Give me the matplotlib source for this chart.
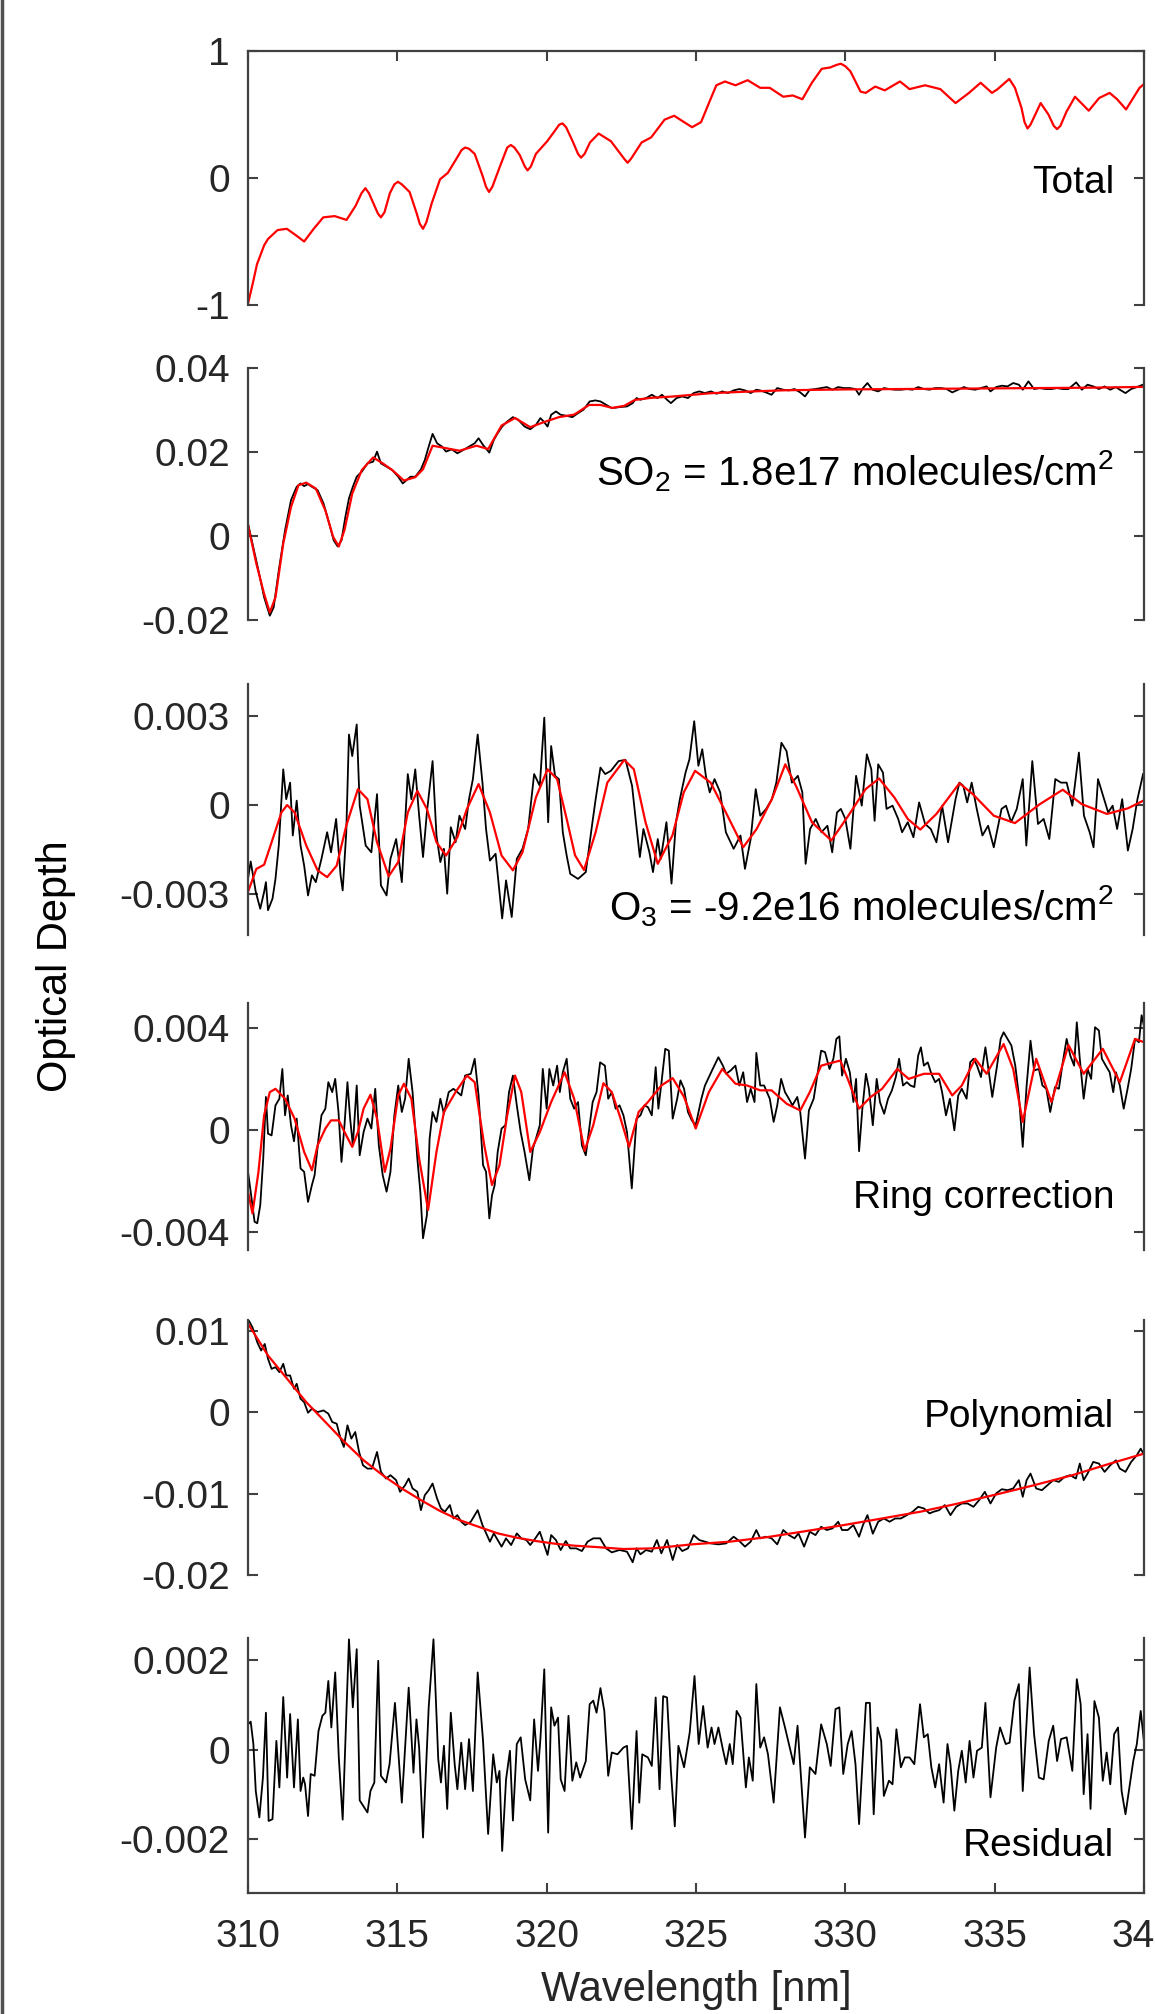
import numpy as np
import matplotlib
matplotlib.use("Agg")
import matplotlib.pyplot as plt
from matplotlib.lines import Line2D

plt.rcParams["font.family"] = ["Liberation Sans", "DejaVu Sans"]
plt.rcParams["mathtext.default"] = "regular"
plt.rcParams["lines.solid_joinstyle"] = "round"

# ---------------------------------------------------------------------------
# Data: (wavelength [nm], optical depth)
# Small panels are stored in units of 1e-3.
# ---------------------------------------------------------------------------
TOTAL = [(310.00, -0.99), (310.15, -0.84), (310.30, -0.68), (310.54, -0.53), (310.67, -0.48),
         (310.99, -0.41), (311.30, -0.40), (311.60, -0.45), (311.88, -0.50), (312.20, -0.40),
         (312.52, -0.31), (312.90, -0.30), (313.30, -0.33), (313.60, -0.22), (313.80, -0.12),
         (313.93, -0.08), (314.05, -0.12), (314.20, -0.20), (314.35, -0.28), (314.45, -0.31),
         (314.57, -0.27), (314.75, -0.12), (314.90, -0.05), (315.02, -0.03), (315.15, -0.05),
         (315.41, -0.11), (315.65, -0.28), (315.75, -0.36), (315.86, -0.40), (315.97, -0.35),
         (316.15, -0.20), (316.43, -0.01), (316.69, 0.04), (317.00, 0.16), (317.15, 0.22),
         (317.27, 0.24), (317.40, 0.23), (317.59, 0.19), (317.85, 0.02), (317.97, -0.07),
         (318.07, -0.11), (318.18, -0.07), (318.45, 0.10), (318.68, 0.24), (318.80, 0.26),
         (318.92, 0.24), (319.10, 0.18), (319.27, 0.09), (319.36, 0.06), (319.47, 0.09),
         (319.64, 0.19), (320.02, 0.29), (320.30, 0.38), (320.42, 0.42), (320.53, 0.43),
         (320.65, 0.40), (320.85, 0.30), (321.05, 0.19), (321.15, 0.16), (321.27, 0.19),
         (321.45, 0.28), (321.74, 0.35), (322.15, 0.29), (322.60, 0.15), (322.71, 0.12),
         (322.82, 0.15), (323.18, 0.28), (323.50, 0.32), (323.95, 0.46), (324.27, 0.49),
         (324.60, 0.44), (324.87, 0.40), (325.17, 0.44), (325.45, 0.60), (325.68, 0.73),
         (325.97, 0.76), (326.32, 0.73), (326.73, 0.77), (327.15, 0.71), (327.47, 0.71),
         (327.92, 0.64), (328.24, 0.65), (328.56, 0.62), (328.88, 0.75), (329.21, 0.86),
         (329.49, 0.87), (329.70, 0.89), (329.85, 0.90), (330.00, 0.88), (330.17, 0.84),
         (330.51, 0.68), (330.68, 0.67), (331.00, 0.72), (331.32, 0.69), (331.83, 0.76),
         (332.15, 0.70), (332.67, 0.73), (333.18, 0.70), (333.69, 0.59), (334.14, 0.67),
         (334.53, 0.75), (334.91, 0.67), (335.10, 0.70), (335.49, 0.78), (335.68, 0.71),
         (335.90, 0.55), (336.00, 0.44), (336.10, 0.39), (336.20, 0.42), (336.54, 0.59),
         (336.80, 0.50), (336.98, 0.41), (337.09, 0.385), (337.20, 0.41), (337.40, 0.52),
         (337.69, 0.64), (338.15, 0.53), (338.50, 0.63), (338.85, 0.67), (339.10, 0.62),
         (339.40, 0.54), (339.85, 0.71), (340.00, 0.74)]

SO2_MEAS = [(310.00, 2.95), (310.15, -1.83), (310.35, -8.21), (310.54, -14.59), (310.73, -18.97),
            (310.86, -16.97), (311.03, -8.21), (311.24, 1.35), (311.44, 8.53), (311.63, 11.72),
            (311.76, 12.51), (311.88, 11.88), (312.01, 12.35), (312.14, 11.72), (312.33, 10.92),
            (312.53, 7.73), (312.72, 2.95), (312.87, -1.04), (313.00, -2.47), (313.13, -1.04),
            (313.26, 4.54), (313.38, 8.93), (313.51, 11.72), (313.64, 14.11), (313.81, 15.30),
            (314.00, 17.30), (314.19, 17.69), (314.32, 20.09), (314.45, 17.30), (314.64, 16.50),
            (314.83, 15.70), (315.03, 14.11), (315.18, 12.51), (315.31, 13.31), (315.44, 14.11),
            (315.60, 14.11), (315.79, 15.86), (315.92, 18.09), (316.05, 21.28), (316.18, 24.31),
            (316.33, 22.08), (316.50, 21.28), (316.63, 20.09), (316.82, 20.64), (317.01, 19.69),
            (317.21, 20.48), (317.40, 21.28), (317.59, 22.08), (317.72, 23.27), (317.87, 21.68),
            (318.08, 19.85), (318.23, 22.87), (318.36, 24.47), (318.51, 26.06), (318.68, 27.26),
            (318.87, 28.30), (319.05, 27.66), (319.26, 26.06), (319.45, 25.42), (319.64, 26.46),
            (319.79, 28.06), (319.90, 27.26), (320.03, 26.06), (320.15, 28.86), (320.31, 29.65),
            (320.47, 28.86), (320.67, 28.62), (320.86, 28.30), (321.05, 29.25), (321.23, 30.05),
            (321.44, 32.04), (321.63, 32.28), (321.80, 32.04), (321.99, 31.24), (322.18, 30.45),
            (322.44, 30.69), (322.69, 30.85), (322.88, 31.64), (323.01, 32.84), (323.14, 32.44),
            (323.33, 32.84), (323.52, 33.63), (323.71, 32.84), (323.86, 33.63), (324.03, 32.44),
            (324.16, 31.64), (324.35, 32.84), (324.54, 33.23), (324.73, 32.84), (324.92, 34.03),
            (325.11, 34.43), (325.30, 34.03), (325.50, 34.43), (325.69, 33.87), (325.88, 34.43),
            (326.07, 34.03), (326.26, 34.67), (326.45, 34.99), (326.64, 34.67), (326.83, 34.03),
            (327.02, 34.83), (327.15, 34.67), (327.34, 34.19), (327.53, 33.63), (327.72, 35.22),
            (327.92, 34.83), (328.11, 34.67), (328.30, 34.99), (328.49, 34.19), (328.65, 33.23),
            (328.81, 34.83), (329.00, 34.99), (329.19, 35.22), (329.38, 35.46), (329.57, 34.83),
            (329.76, 35.46), (329.95, 35.22), (330.15, 35.22), (330.34, 34.99), (330.46, 33.63),
            (330.59, 35.22), (330.74, 36.42), (330.91, 34.83), (331.10, 34.43), (331.29, 35.22),
            (331.48, 34.99), (331.67, 34.83), (331.86, 34.83), (332.06, 34.99), (332.25, 34.83),
            (332.44, 35.46), (332.63, 34.99), (332.82, 34.83), (333.01, 35.22), (333.20, 35.22),
            (333.39, 34.99), (333.58, 34.19), (333.78, 34.83), (333.97, 35.46), (334.16, 34.99),
            (334.35, 34.83), (334.54, 35.22), (334.73, 35.62), (334.86, 34.43), (335.05, 35.46),
            (335.24, 35.78), (335.43, 35.62), (335.62, 36.42), (335.81, 36.02), (335.94, 34.83),
            (336.13, 36.82), (336.32, 34.99), (336.51, 35.22), (336.71, 34.99), (336.90, 34.99),
            (337.09, 35.22), (337.28, 34.99), (337.47, 34.99), (337.73, 36.58), (337.92, 34.83),
            (338.11, 36.02), (338.30, 35.62), (338.49, 34.99), (338.68, 35.62), (338.87, 34.83),
            (339.06, 35.46), (339.19, 34.83), (339.38, 34.03), (339.57, 34.99), (339.76, 35.46),
            (339.96, 36.02)]

SO2_FIT = [(310.00, 2.6), (310.28, -6.6), (310.54, -13.8), (310.73, -18.2), (310.92, -14.6),
           (311.18, -1.8), (311.44, 6.9), (311.69, 12.1), (311.95, 12.7), (312.27, 11.3),
           (312.59, 6.1), (312.85, -0.2), (313.04, -2.5), (313.23, 1.4), (313.49, 10.1),
           (313.81, 15.7), (314.19, 18.7), (314.51, 17.3), (314.83, 15.7), (315.22, 13.2),
           (315.60, 14.0), (315.86, 15.9), (316.18, 21.5), (316.56, 21.0), (317.08, 20.3),
           (317.65, 21.5), (318.04, 20.7), (318.49, 26.3), (318.94, 28.1), (319.45, 25.9),
           (319.90, 27.1), (320.41, 28.3), (320.92, 28.9), (321.42, 31.2), (321.80, 31.2),
           (322.20, 30.5), (322.60, 31.0), (322.95, 32.4), (323.50, 32.9), (324.20, 33.2),
           (325.50, 34.0), (326.80, 34.4), (328.00, 34.7), (330.00, 34.9), (332.00, 35.0),
           (334.00, 35.1), (336.00, 35.2), (338.00, 35.3), (340.00, 35.5)]

O3_MEAS = [(310.00, -2.50), (310.09, -1.91), (310.26, -2.94), (310.41, -3.51), (310.54, -2.94),
           (310.60, -2.61), (310.67, -3.56), (310.82, -3.17), (310.92, -2.50), (311.03, -1.37),
           (311.18, 1.21), (311.28, 0.20), (311.41, 0.76), (311.50, -1.03), (311.63, 0.15),
           (311.76, -1.37), (311.88, -2.05), (312.01, -3.06), (312.14, -2.38), (312.27, -2.61),
           (312.46, -1.82), (312.65, -0.92), (312.78, -1.60), (312.95, -0.47), (313.10, -2.38),
           (313.17, -2.89), (313.29, -0.92), (313.38, 2.39), (313.49, 1.66), (313.64, 2.73),
           (313.74, -0.02), (313.94, -1.37), (314.13, -1.60), (314.32, 0.37), (314.45, -2.72),
           (314.64, -3.06), (314.77, -1.82), (314.96, -1.15), (315.15, -2.61), (315.35, 1.05),
           (315.47, 0.20), (315.60, 1.21), (315.73, -0.36), (315.86, -1.76), (315.99, -0.25),
           (316.18, 1.49), (316.31, -1.03), (316.44, -1.93), (316.56, -1.48), (316.67, -3.00),
           (316.79, -0.75), (316.95, -1.26), (317.08, -0.36), (317.27, -0.81), (317.40, 0.20),
           (317.53, 0.88), (317.69, 2.39), (317.85, 0.76), (317.97, -0.81), (318.10, -1.88),
           (318.29, -1.65), (318.51, -3.84), (318.64, -2.55), (318.83, -3.79), (319.00, -1.82),
           (319.19, -1.48), (319.38, -0.81), (319.58, 1.05), (319.77, 0.65), (319.92, 2.96),
           (320.05, -0.58), (320.15, 2.00), (320.28, 0.99), (320.41, 0.88), (320.54, -0.92),
           (320.67, -1.71), (320.79, -2.33), (321.05, -2.50), (321.31, -2.27), (321.51, -0.75),
           (321.64, 0.20), (321.80, 1.27), (321.96, 1.05), (322.15, 1.16), (322.41, 1.49),
           (322.64, 1.53), (322.86, 0.65), (322.99, -0.58), (323.12, -1.76), (323.24, -0.81),
           (323.44, -1.60), (323.56, -2.27), (323.72, -1.15), (323.82, -1.82), (324.01, -0.58),
           (324.18, -2.66), (324.33, -0.58), (324.46, 0.20), (324.65, 1.10), (324.78, 1.55),
           (324.94, 2.84), (325.08, 1.33), (325.21, 1.89), (325.33, 0.99), (325.46, 0.43),
           (325.62, 0.88), (325.81, 0.43), (326.00, -0.92), (326.26, -1.48), (326.49, -1.03),
           (326.64, -2.16), (326.83, -1.15), (327.00, 0.54), (327.15, -0.36), (327.35, -0.13),
           (327.54, 0.20), (327.69, 0.76), (327.86, 2.11), (328.03, 1.83), (328.21, 0.76),
           (328.41, 0.99), (328.56, 0.43), (328.67, -1.99), (328.82, -0.81), (329.01, -0.47),
           (329.20, -0.92), (329.40, -0.70), (329.56, -1.60), (329.72, -0.25), (329.85, -0.13),
           (330.00, -0.47), (330.17, -1.48), (330.36, 0.99), (330.55, -0.02), (330.72, 1.72),
           (330.87, 1.21), (330.98, -0.53), (331.10, 1.38), (331.26, 1.10), (331.38, -0.13),
           (331.58, -0.02), (331.77, -0.47), (331.90, -0.92), (332.09, -0.58), (332.28, -1.09),
           (332.47, 0.09), (332.67, -0.64), (332.86, -0.81), (333.05, -1.26), (333.24, -0.02),
           (333.44, -1.26), (333.69, 0.20), (333.82, 0.76), (333.95, 0.65), (334.08, 0.09),
           (334.23, 0.76), (334.40, -0.13), (334.59, -1.03), (334.78, -0.70), (334.97, -1.43),
           (335.23, -0.13), (335.38, -0.02), (335.55, -0.58), (335.74, -0.13), (335.94, 0.88),
           (336.06, -1.37), (336.26, 1.49), (336.45, -0.64), (336.64, -0.47), (336.83, -1.15),
           (337.03, 0.88), (337.22, 0.76), (337.41, 0.76), (337.60, -0.02), (337.82, 1.78),
           (337.99, -0.36), (338.18, -0.92), (338.31, -1.43), (338.46, 0.88), (338.63, 0.31),
           (338.80, -0.25), (338.95, -0.02), (339.10, -0.81), (339.27, 0.20), (339.46, -1.54),
           (339.62, -0.81), (339.78, 0.20), (339.97, 1.05)]

O3_FIT = [(310.00, -2.94), (310.28, -2.16), (310.54, -2.02), (310.79, -1.26), (311.12, -0.25),
          (311.31, 0.00), (311.56, -0.25), (311.95, -1.37), (312.33, -2.21), (312.65, -2.44),
          (312.97, -2.05), (313.29, -0.70), (313.68, 0.54), (314.00, 0.20), (314.32, -1.26),
          (314.71, -2.41), (315.03, -1.93), (315.35, -0.25), (315.67, 0.48), (315.99, -0.13),
          (316.31, -1.26), (316.63, -1.71), (317.01, -1.09), (317.33, -0.13), (317.72, 0.71),
          (318.10, -0.25), (318.49, -1.71), (318.87, -2.21), (319.19, -1.60), (319.64, 0.26),
          (320.03, 1.21), (320.35, 0.88), (320.67, -0.47), (320.95, -1.70), (321.25, -2.20),
          (321.64, -0.92), (322.03, 0.76), (322.60, 1.53), (322.92, 1.21), (323.31, -0.58),
          (323.72, -1.99), (324.21, -1.03), (324.59, 0.43), (324.97, 1.16), (325.49, 0.76),
          (326.00, -0.25), (326.58, -1.43), (327.03, -0.81), (327.54, 0.20), (327.99, 1.38),
          (328.37, 0.60), (328.88, -0.58), (329.53, -1.20), (330.10, -0.36), (330.68, 0.54),
          (331.13, 0.90), (331.64, 0.26), (332.09, -0.47), (332.51, -0.83), (333.05, -0.30),
          (333.82, 0.74), (334.27, 0.37), (334.97, -0.36), (335.68, -0.61), (336.51, 0.03),
          (337.28, 0.52), (337.92, 0.03), (338.76, -0.30), (339.46, -0.11), (340.00, 0.16)]

RING_MEAS = [(310.00, -1.63), (310.09, -2.41), (310.22, -3.59), (310.31, -3.65), (310.41, -2.94),
             (310.51, -1.11), (310.60, 1.31), (310.67, -0.13), (310.79, -0.20), (310.92, 0.98),
             (311.05, 1.24), (311.15, 2.41), (311.24, 0.59), (311.33, 1.37), (311.44, 0.20),
             (311.54, -0.43), (311.63, 0.46), (311.76, -1.50), (311.88, -1.63), (312.01, -2.81),
             (312.14, -2.15), (312.23, -1.76), (312.36, -0.33), (312.46, 0.59), (312.59, 0.85),
             (312.69, 1.89), (312.82, 1.50), (312.92, 2.02), (313.03, 0.72), (313.13, -1.24),
             (313.23, 0.20), (313.33, 1.89), (313.42, 0.46), (313.51, -0.59), (313.64, 1.76),
             (313.74, -0.98), (313.87, -0.07), (314.00, 0.46), (314.13, 0.07), (314.26, 1.63),
             (314.38, -0.59), (314.51, -1.76), (314.64, -2.41), (314.77, -1.63), (314.90, 0.59),
             (315.03, 1.76), (315.15, 0.72), (315.26, 1.24), (315.38, 2.81), (315.51, 1.50),
             (315.67, -1.11), (315.77, -2.41), (315.86, -4.24), (315.99, -3.33), (316.08, -0.33),
             (316.18, 0.72), (316.31, 0.33), (316.44, 1.24), (316.56, 0.65), (316.72, 1.50),
             (316.88, 1.63), (317.01, 1.50), (317.14, 1.37), (317.27, 2.15), (317.46, 2.22),
             (317.59, 2.81), (317.72, 1.37), (317.87, -1.37), (317.97, -1.63), (318.08, -3.46),
             (318.17, -2.55), (318.26, -2.15), (318.36, -0.85), (318.49, 0.07), (318.62, 0.20),
             (318.74, 1.50), (318.87, 2.15), (319.00, 0.98), (319.13, -0.07), (319.26, -0.85),
             (319.42, -1.96), (319.54, -0.72), (319.64, -0.33), (319.77, 0.20), (319.87, 2.41),
             (320.00, 0.85), (320.09, 2.41), (320.22, 1.76), (320.35, 2.54), (320.44, 1.50),
             (320.54, 2.28), (320.67, 2.81), (320.79, 1.24), (320.92, 0.85), (321.05, 1.11),
             (321.18, -0.59), (321.31, -0.98), (321.41, -0.07), (321.54, 1.11), (321.67, 1.50),
             (321.79, 2.67), (321.95, 2.54), (322.06, 1.24), (322.18, 1.50), (322.31, 0.85),
             (322.44, 0.98), (322.57, 0.59), (322.69, -0.07), (322.85, -2.28), (322.95, -0.59),
             (323.01, 0.46), (323.14, 0.59), (323.27, 0.98), (323.39, 0.91), (323.52, 0.59),
             (323.65, 2.48), (323.74, 0.85), (323.84, 1.83), (323.97, 3.20), (324.09, 3.13),
             (324.22, 0.46), (324.37, 1.24), (324.48, 1.96), (324.60, 1.63), (324.73, 0.72),
             (324.86, 0.39), (324.99, 0.20), (325.18, 1.24), (325.30, 1.76), (325.43, 2.09),
             (325.56, 2.41), (325.75, 2.87), (325.90, 2.54), (326.01, 2.22), (326.16, 2.35),
             (326.32, 2.54), (326.45, 1.76), (326.58, 2.28), (326.71, 1.11), (326.83, 1.63),
             (326.96, 1.11), (327.02, 3.04), (327.15, 1.76), (327.28, 1.76), (327.47, 1.24),
             (327.60, 0.33), (327.72, 0.98), (327.85, 2.02), (327.98, 1.50), (328.11, 1.24),
             (328.23, 0.98), (328.39, 1.31), (328.49, 0.72), (328.65, -1.11), (328.78, 0.78),
             (328.94, 1.24), (329.06, 2.15), (329.19, 3.13), (329.32, 3.07), (329.47, 2.41),
             (329.60, 2.81), (329.70, 3.59), (329.80, 3.69), (329.89, 2.15), (330.02, 2.81),
             (330.15, 2.28), (330.27, 1.11), (330.36, 2.02), (330.46, -0.82), (330.57, 0.85),
             (330.69, 2.22), (330.79, 1.63), (330.92, 0.20), (331.05, 2.02), (331.16, 1.11),
             (331.30, 0.65), (331.43, 1.24), (331.56, 1.57), (331.69, 2.09), (331.80, 2.81),
             (331.93, 1.76), (332.06, 1.89), (332.18, 1.76), (332.31, 1.70), (332.44, 2.94),
             (332.53, 3.26), (332.63, 2.54), (332.76, 2.67), (332.88, 2.22), (333.01, 1.89),
             (333.14, 2.02), (333.24, 1.50), (333.37, 0.59), (333.50, 1.24), (333.65, 0.00),
             (333.78, 1.37), (333.90, 1.63), (334.06, 1.24), (334.18, 2.67), (334.29, 2.81),
             (334.41, 2.54), (334.54, 2.09), (334.69, 3.26), (334.79, 2.41), (334.92, 1.31),
             (335.08, 2.54), (335.20, 3.59), (335.30, 3.85), (335.43, 3.59), (335.56, 3.33),
             (335.69, 2.54), (335.81, 1.37), (335.94, -0.65), (336.07, 1.76), (336.20, 3.52),
             (336.32, 2.35), (336.48, 2.41), (336.60, 1.76), (336.73, 1.63), (336.86, 0.72),
             (337.02, 1.70), (337.15, 1.63), (337.28, 2.67), (337.41, 3.59), (337.53, 2.94),
             (337.66, 2.54), (337.75, 4.24), (337.85, 2.81), (337.98, 1.24), (338.11, 2.41),
             (338.23, 2.02), (338.36, 4.05), (338.49, 3.92), (338.59, 2.81), (338.72, 2.54),
             (338.85, 2.28), (338.97, 1.50), (339.06, 2.28), (339.19, 1.76), (339.32, 0.85),
             (339.45, 1.63), (339.57, 2.41), (339.70, 3.59), (339.83, 3.46), (339.92, 4.52),
             (340.02, 3.98)]

RING_FIT = [(310.00, -2.41), (310.15, -3.26), (310.35, -1.63), (310.54, 0.59), (310.73, 1.50),
            (310.92, 1.63), (311.24, 1.24), (311.56, 0.46), (311.88, -0.85), (312.14, -1.57),
            (312.33, -0.59), (312.59, 0.07), (312.78, 0.39), (313.04, 0.39), (313.29, -0.20),
            (313.49, -0.65), (313.68, -0.07), (313.87, 0.85), (314.10, 1.40), (314.32, 0.46),
            (314.58, -1.63), (314.77, -0.72), (315.03, 1.37), (315.22, 1.83), (315.47, 1.24),
            (315.73, -1.11), (316.03, -3.13), (316.31, -0.85), (316.56, 0.72), (316.95, 1.50),
            (317.33, 2.15), (317.59, 1.89), (317.91, -0.59), (318.17, -2.15), (318.42, -1.37),
            (318.68, 0.59), (318.94, 2.15), (319.15, 1.50), (319.45, -0.85), (319.77, -0.07),
            (320.15, 1.11), (320.60, 2.28), (320.92, 1.24), (321.27, -0.80), (321.56, 0.20),
            (321.90, 1.85), (322.18, 1.50), (322.44, 0.59), (322.76, -0.65), (323.08, 0.72),
            (323.39, 1.11), (323.84, 1.76), (324.22, 2.05), (324.60, 1.31), (324.99, 0.07),
            (325.43, 1.50), (325.88, 2.41), (326.32, 1.83), (326.71, 1.76), (327.15, 1.57),
            (327.53, 1.57), (328.04, 1.04), (328.49, 0.78), (328.81, 1.50), (329.19, 2.54),
            (329.83, 2.74), (330.08, 2.02), (330.46, 0.85), (330.85, 1.31), (331.23, 1.63),
            (331.74, 2.41), (332.12, 2.02), (332.63, 2.22), (333.14, 2.22), (333.58, 1.37),
            (333.90, 1.76), (334.35, 2.81), (334.73, 2.22), (335.30, 3.39), (335.62, 2.41),
            (335.94, 0.33), (336.39, 2.81), (336.90, 1.11), (337.47, 3.35), (337.98, 2.22),
            (338.62, 3.20), (339.19, 1.89), (339.70, 3.59), (340.00, 3.46)]

POLY_MEAS = [(310.00, 11.42), (310.15, 10.40), (310.31, 8.57), (310.44, 7.55), (310.56, 8.36),
             (310.67, 6.53), (310.79, 5.30), (310.92, 5.51), (311.05, 4.90), (311.18, 5.92),
             (311.28, 4.49), (311.41, 4.49), (311.54, 2.86), (311.63, 3.47), (311.76, 1.63),
             (311.88, 1.22), (312.01, -0.08), (312.14, 0.41), (312.33, 0.00), (312.53, 0.20),
             (312.69, -0.20), (312.82, -1.22), (312.97, -1.43), (313.10, -3.26), (313.21, -4.28),
             (313.33, -1.63), (313.46, -3.26), (313.59, -2.45), (313.72, -4.90), (313.85, -6.53),
             (314.00, -6.94), (314.15, -6.94), (314.32, -4.90), (314.45, -7.34), (314.62, -8.16),
             (314.77, -7.75), (314.96, -8.36), (315.09, -9.79), (315.26, -8.98), (315.38, -8.16),
             (315.51, -9.38), (315.67, -9.79), (315.79, -12.04), (315.92, -10.20), (316.05, -9.59),
             (316.18, -8.77), (316.33, -10.61), (316.46, -11.83), (316.59, -12.24), (316.76, -11.42),
             (316.88, -13.06), (317.01, -12.65), (317.14, -13.46), (317.27, -13.87), (317.46, -13.46),
             (317.69, -12.04), (317.85, -13.87), (318.00, -15.10), (318.10, -15.91), (318.23, -14.89),
             (318.36, -15.71), (318.49, -16.52), (318.64, -15.50), (318.81, -16.32), (319.00, -14.89),
             (319.15, -15.50), (319.32, -15.71), (319.45, -16.32), (319.62, -15.50), (319.77, -14.69),
             (319.90, -16.12), (320.03, -17.54), (320.15, -15.10), (320.31, -15.71), (320.47, -16.93),
             (320.64, -15.83), (320.79, -16.73), (320.99, -16.73), (321.18, -17.06), (321.37, -15.91),
             (321.56, -15.50), (321.79, -15.50), (321.99, -16.73), (322.18, -17.22), (322.44, -16.93),
             (322.69, -17.14), (322.88, -18.44), (323.01, -16.73), (323.14, -17.46), (323.33, -16.93),
             (323.52, -17.14), (323.69, -15.71), (323.84, -17.34), (324.03, -15.71), (324.22, -18.16),
             (324.37, -16.32), (324.54, -17.06), (324.73, -16.73), (324.92, -15.10), (325.11, -15.71),
             (325.30, -15.91), (325.50, -16.12), (325.75, -16.24), (326.01, -16.12), (326.26, -15.30),
             (326.45, -15.83), (326.64, -16.52), (326.83, -15.91), (327.02, -14.48), (327.15, -15.50),
             (327.34, -15.30), (327.53, -15.50), (327.72, -16.24), (327.92, -14.48), (328.11, -15.10),
             (328.30, -15.50), (328.43, -14.89), (328.62, -16.52), (328.81, -14.69), (329.00, -15.10),
             (329.19, -14.08), (329.38, -14.48), (329.57, -14.28), (329.76, -13.46), (329.89, -14.48),
             (330.08, -14.48), (330.27, -13.87), (330.46, -15.30), (330.59, -13.87), (330.74, -12.65),
             (330.92, -14.93), (331.10, -13.46), (331.29, -13.06), (331.48, -13.46), (331.67, -13.06),
             (331.86, -13.06), (332.06, -12.65), (332.25, -12.24), (332.44, -11.63), (332.63, -11.83),
             (332.82, -12.44), (332.95, -12.24), (333.14, -12.04), (333.33, -11.42), (333.52, -12.65),
             (333.71, -11.63), (333.90, -11.22), (334.09, -11.22), (334.29, -11.63), (334.48, -10.81),
             (334.67, -9.79), (334.86, -11.22), (335.05, -9.98), (335.24, -9.47), (335.43, -9.59),
             (335.62, -9.38), (335.81, -8.36), (335.94, -10.40), (336.07, -8.36), (336.20, -7.55),
             (336.39, -9.38), (336.58, -9.59), (336.77, -8.98), (336.96, -8.36), (337.15, -8.57),
             (337.34, -7.96), (337.53, -7.75), (337.72, -8.16), (337.85, -6.32), (337.98, -8.36),
             (338.11, -7.55), (338.30, -6.12), (338.49, -6.32), (338.68, -7.34), (338.87, -6.53),
             (339.06, -5.92), (339.19, -6.94), (339.38, -7.34), (339.57, -6.12), (339.76, -5.30),
             (339.89, -4.49), (340.01, -5.30)]

POLY_FIT = [(310.00, 10.85), (310.67, 6.94), (311.31, 4.08), (311.95, 1.22), (312.59, -1.22),
            (313.23, -3.67), (313.87, -5.92), (314.51, -7.75), (315.15, -9.38), (315.79, -10.81),
            (316.44, -12.16), (317.08, -13.26), (317.72, -14.08), (318.36, -14.89), (319.00, -15.42),
            (319.64, -15.83), (320.28, -16.16), (320.92, -16.40), (321.67, -16.57), (322.57, -16.81),
            (323.58, -16.73), (324.86, -16.24), (326.13, -15.91), (327.41, -15.34), (328.68, -14.61),
            (329.95, -13.87), (331.23, -13.06), (332.50, -12.24), (333.78, -11.22), (335.05, -10.12),
            (336.32, -8.98), (337.60, -7.75), (338.87, -6.32), (340.00, -5.10)]

RESIDUAL = [(310.00, 0.57), (310.09, 0.63), (310.18, 0.13), (310.26, -0.92), (310.38, -1.51),
            (310.50, -0.62), (310.60, 0.83), (310.69, -1.59), (310.82, -1.55), (310.95, 0.20),
            (311.05, -0.84), (311.18, 1.18), (311.31, -0.62), (311.41, 0.80), (311.54, -0.84),
            (311.67, 0.68), (311.76, -0.92), (311.85, -0.62), (311.91, -0.77), (312.01, -1.48),
            (312.10, -0.54), (312.23, -0.58), (312.36, 0.42), (312.49, 0.76), (312.59, 0.83),
            (312.69, 1.54), (312.79, 0.50), (312.92, 1.73), (313.04, -0.17), (313.17, -1.56),
            (313.29, 0.72), (313.38, 2.47), (313.51, 0.95), (313.64, 2.25), (313.74, -1.13),
            (314.00, -1.40), (314.10, -0.92), (314.23, -0.73), (314.36, 1.99), (314.45, -0.58),
            (314.62, -0.73), (314.74, -0.32), (314.92, 1.05), (315.15, -1.18), (315.38, 1.39),
            (315.54, -0.51), (315.64, 0.68), (315.73, 0.05), (315.86, -1.96), (316.05, 0.95),
            (316.21, 2.47), (316.37, -0.21), (316.46, -0.73), (316.56, 0.09), (316.67, -1.32),
            (316.79, 0.83), (316.92, -0.32), (317.01, -0.88), (317.14, 0.16), (317.27, -0.88),
            (317.40, 0.24), (317.53, -0.92), (317.69, 1.73), (317.87, 0.20), (318.04, -1.88),
            (318.21, -0.10), (318.33, -0.73), (318.42, -0.47), (318.51, -2.26), (318.64, -0.66),
            (318.77, -0.02), (318.87, -1.58), (319.00, 0.13), (319.13, 0.28), (319.28, -0.66),
            (319.45, -1.13), (319.58, 0.68), (319.71, -0.47), (319.79, 0.24), (319.92, 1.80),
            (320.05, -1.85), (320.15, 0.95), (320.26, 0.54), (320.38, 0.72), (320.47, -0.66),
            (320.60, -0.92), (320.73, 0.76), (320.86, -0.69), (320.99, -0.28), (321.12, -0.62),
            (321.31, -0.25), (321.44, 1.02), (321.56, 1.10), (321.67, 0.83), (321.80, 1.38),
            (321.93, 0.87), (322.06, -0.58), (322.18, -0.06), (322.37, -0.10), (322.57, 0.05),
            (322.69, 0.09), (322.85, -1.77), (323.01, 0.42), (323.10, -1.18), (323.20, -0.10),
            (323.39, -0.17), (323.52, -0.36), (323.65, 1.17), (323.78, -0.88), (323.90, 1.20),
            (324.03, 1.17), (324.16, -0.47), (324.29, -1.71), (324.41, 0.09), (324.60, -0.39),
            (324.79, 0.39), (324.95, 1.65), (325.09, 0.13), (325.24, 0.98), (325.39, 0.05),
            (325.52, 0.50), (325.62, 0.13), (325.75, 0.50), (325.90, 0.01), (326.01, -0.32),
            (326.13, 0.13), (326.23, -0.32), (326.36, 0.87), (326.49, 0.72), (326.67, -0.84),
            (326.77, -0.17), (326.90, -0.69), (327.02, 1.47), (327.15, 0.05), (327.28, 0.28),
            (327.41, -0.10), (327.60, -1.18), (327.81, 0.95), (327.98, 0.50), (328.11, 0.13),
            (328.27, -0.32), (328.40, 0.54), (328.65, -1.96), (328.81, -0.39), (329.00, -0.54),
            (329.19, 0.57), (329.38, 0.13), (329.51, -0.36), (329.67, 0.91), (329.80, 0.95),
            (329.93, -0.54), (330.08, 0.13), (330.21, 0.42), (330.34, -0.32), (330.46, -1.66),
            (330.59, -0.10), (330.69, 1.05), (330.82, 1.05), (330.95, -1.44), (331.08, 0.50),
            (331.20, 0.20), (331.29, -1.03), (331.46, -0.69), (331.58, -0.77), (331.71, 0.46),
            (331.86, -0.39), (331.99, -0.17), (332.15, -0.17), (332.31, -0.32), (332.50, 1.02),
            (332.63, 0.28), (332.76, 0.35), (332.88, -0.39), (333.01, -0.84), (333.14, -0.32),
            (333.29, -1.18), (333.42, 0.13), (333.52, -0.32), (333.65, -1.36), (333.78, -0.47),
            (333.90, -0.02), (334.03, -0.73), (334.16, 0.20), (334.29, -0.62), (334.41, -0.02),
            (334.57, 0.05), (334.69, 1.05), (334.86, -1.06), (335.05, 0.05), (335.18, 0.50),
            (335.37, 0.13), (335.50, 0.16), (335.66, 1.10), (335.81, 1.47), (335.94, -0.92),
            (336.17, 1.84), (336.32, 0.35), (336.48, -0.62), (336.64, -0.66), (336.81, 0.20),
            (336.96, 0.54), (337.09, -0.25), (337.22, 0.24), (337.41, 0.28), (337.60, -0.47),
            (337.75, 1.58), (337.88, 1.02), (337.98, -0.99), (338.11, 0.35), (338.21, -1.32),
            (338.34, 1.09), (338.49, 0.72), (338.62, -0.69), (338.75, -0.06), (338.87, -0.77),
            (339.00, 0.35), (339.13, 0.50), (339.25, -0.92), (339.38, -1.44), (339.51, -0.84),
            (339.64, -0.25), (339.76, 0.13), (339.89, 0.87), (340.02, 0.05)]

X_TICKS = [310, 315, 320, 325, 330, 335, 340]
X_TICK_LABELS = ["310", "315", "320", "325", "330", "335", "340"]

AX_COLOR = "#404040"
TICK_TEXT = "#262626"
TICK_FONT = 28
LABEL_FONT = 28
SPECIES_FONT = 29
AXIS_FONT = 30


def xy(pairs, scale=1.0):
    arr = np.array(pairs, dtype=float)
    return arr[:, 0], arr[:, 1] * scale


def style(ax, ylim, yticks, ylabels, top=False, bottom=False):
    ax.set_xlim(310, 340)
    ax.set_ylim(*ylim)
    for side in ("left", "right", "top", "bottom"):
        ax.spines[side].set_color(AX_COLOR)
        ax.spines[side].set_linewidth(1.6)
    ax.spines["top"].set_visible(top)
    ax.spines["bottom"].set_visible(bottom)
    ax.set_yticks(yticks)
    ax.set_yticklabels(ylabels)
    ax.tick_params(axis="y", direction="in", length=7, width=1.5, color=AX_COLOR,
                   labelcolor=TICK_TEXT, labelsize=TICK_FONT, pad=13, left=True, right=True)
    ax.set_xticks(X_TICKS)
    ax.set_xticklabels(X_TICK_LABELS)
    ax.tick_params(axis="x", direction="in", length=7, width=1.5, color=AX_COLOR,
                   labelcolor=TICK_TEXT, labelsize=TICK_FONT, pad=19,
                   top=top, bottom=bottom, labelbottom=bottom, labeltop=False)
    ax.patch.set_alpha(0)


fig = plt.figure(figsize=(11.55, 20.14), dpi=100)
W, H = 1155.0, 2014.0
LEFT, RIGHT = 248, 1144


def add_panel(top_px, bottom_px):
    return fig.add_axes([LEFT / W, 1 - bottom_px / H, (RIGHT - LEFT) / W, (bottom_px - top_px) / H])


RED = "#ff0000"
BLACK = "#000000"

# Total
ax1 = add_panel(51, 305)
ax1.plot(*xy(TOTAL), color=RED, lw=1.6)
style(ax1, (-1, 1), [-1, 0, 1], ["-1", "0", "1"], top=True)
ax1.text(339.0, -0.12, "Total", ha="right", va="baseline", fontsize=LABEL_FONT)

# SO2
ax2 = add_panel(368, 620)
ax2.plot(*xy(SO2_MEAS, 1e-3), color=BLACK, lw=1.3)
ax2.plot(*xy(SO2_FIT, 1e-3), color=RED, lw=1.6)
style(ax2, (-0.02, 0.04), [-0.02, 0, 0.02, 0.04], ["-0.02", "0", "0.02", "0.04"])
ax2.text(339.0, 0.0121, r"SO$_2$ = 1.8e17 molecules/cm$^2$", ha="right", va="baseline",
         fontsize=SPECIES_FONT)

# O3
ax3 = add_panel(684, 935)
ax3.plot(*xy(O3_MEAS, 1e-3), color=BLACK, lw=1.3)
ax3.plot(*xy(O3_FIT, 1e-3), color=RED, lw=1.6)
style(ax3, (-0.0044, 0.0041), [-0.003, 0, 0.003], ["-0.003", "0", "0.003"])
ax3.text(339.0, -0.0039, r"O$_3$ = -9.2e16 molecules/cm$^2$", ha="right", va="baseline",
         fontsize=SPECIES_FONT)

# Ring
ax4 = add_panel(1003, 1250)
ax4.plot(*xy(RING_MEAS, 1e-3), color=BLACK, lw=1.3)
ax4.plot(*xy(RING_FIT, 1e-3), color=RED, lw=1.6)
style(ax4, (-0.0047, 0.005), [-0.004, 0, 0.004], ["-0.004", "0", "0.004"])
ax4.text(339.0, -0.00306, "Ring correction", ha="right", va="baseline", fontsize=LABEL_FONT)

# Polynomial
ax5 = add_panel(1320, 1575)
ax5.plot(*xy(POLY_MEAS, 1e-3), color=BLACK, lw=1.3)
ax5.plot(*xy(POLY_FIT, 1e-3), color=RED, lw=1.6)
style(ax5, (-0.02, 0.0113), [-0.02, -0.01, 0, 0.01], ["-0.02", "-0.01", "0", "0.01"])
ax5.text(339.0, -0.0018, "Polynomial", ha="right", va="baseline", fontsize=LABEL_FONT)

# Residual
ax6 = add_panel(1638, 1893)
ax6.plot(*xy(RESIDUAL, 1e-3), color=BLACK, lw=1.3)
style(ax6, (-0.0032, 0.0025), [-0.002, 0, 0.002], ["-0.002", "0", "0.002"], bottom=True)
ax6.text(339.0, -0.00237, "Residual", ha="right", va="baseline", fontsize=LABEL_FONT)

fig.text(696 / W, 1 - 1990 / H, "Wavelength [nm]", ha="center", va="center",
         fontsize=AXIS_FONT, color=TICK_TEXT)
fig.text(56 / W, 1 - 966 / H, "Optical Depth", ha="center", va="center", rotation=90,
         fontsize=AXIS_FONT)

# dark frame edge on the left of the screenshot
fig.add_artist(Line2D([1.5 / W, 1.5 / W], [0, 1], transform=fig.transFigure, color="#505050", lw=2.5))

fig.savefig("out.png", dpi=100)
